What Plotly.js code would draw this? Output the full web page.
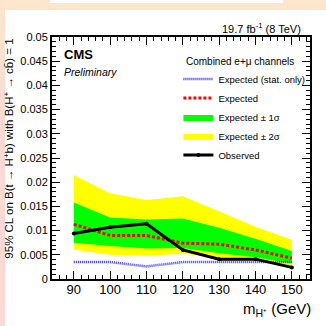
<!DOCTYPE html>
<html>
<head>
<meta charset="utf-8">
<script src="https://cdn.plot.ly/plotly-3.0.1.min.js"></script>
<style>
html,body{margin:0;padding:0;}
body{width:326px;height:326px;position:relative;overflow:hidden;background:#ffffff;}
#strip-top{position:absolute;left:0;top:0;width:326px;height:10px;background:#fde6cb;}
#strip-left{position:absolute;left:0;top:0;width:5px;height:326px;background:linear-gradient(#fde6cb,#fcd9d4 40%,#fcd9d6);}
#box-top{position:absolute;left:50px;top:0;width:233px;height:3px;background:#ffffff;}
#chart{position:absolute;left:0;top:0;width:326px;height:326px;}
</style>
</head>
<body>
<div id="strip-top"></div>
<div id="strip-left"></div>
<div id="box-top"></div>
<div id="chart"></div>
<script>
// Charged Higgs mass points (GeV)
const masses = [90, 100, 110, 120, 130, 140, 150];
// 95% CL upper limits
const observed     = [0.0094, 0.0107, 0.0114, 0.0060, 0.0041, 0.0041, 0.0024];
const expected     = [0.0113, 0.0090, 0.0090, 0.0074, 0.0072, 0.0060, 0.0043];
const expStatOnly  = [0.0035, 0.0035, 0.0026, 0.0035, 0.0035, 0.0035, 0.0035];
const minus1sigma  = [0.0075, 0.0068, 0.0063, 0.0064, 0.0053, 0.0045, 0.0032];
const plus1sigma   = [0.0158, 0.0127, 0.0123, 0.0125, 0.0106, 0.0083, 0.0058];
const minus2sigma  = [0.0061, 0.0050, 0.0048, 0.0052, 0.0044, 0.0038, 0.0022];
const plus2sigma   = [0.0215, 0.0177, 0.0163, 0.0171, 0.0140, 0.0108, 0.0081];
const xTickVals = [90, 100, 110, 120, 130, 140, 150];

const FONT = "'Liberation Sans', Arial, sans-serif";

function band(lo, hi) {
  return {
    x: masses.concat(masses.slice().reverse()),
    y: hi.concat(lo.slice().reverse())
  };
}
const b2 = band(minus2sigma, plus2sigma);
const b1 = band(minus1sigma, plus1sigma);

const traces = [
  {x: b2.x, y: b2.y, type: 'scatter', mode: 'lines', fill: 'toself',
   fillcolor: '#ffff00', line: {width: 0, color: '#ffff00'},
   name: 'Expected ± 2σ', legendrank: 4, legendgroup: 'g4', hoverinfo: 'skip'},
  {x: b1.x, y: b1.y, type: 'scatter', mode: 'lines', fill: 'toself',
   fillcolor: '#00ff00', line: {width: 0, color: '#00ff00'},
   name: 'Expected ± 1σ', legendrank: 3, legendgroup: 'g3', hoverinfo: 'skip'},
  {x: masses, y: expStatOnly, type: 'scatter', mode: 'lines',
   line: {color: '#2f2fff', width: 2.5, dash: '1px,1px'},
   name: 'Expected (stat. only)', legendrank: 1, legendgroup: 'g1'},
  {x: masses, y: expected, type: 'scatter', mode: 'lines',
   line: {color: '#ff0000', width: 3, dash: '3px,2px'},
   name: 'Expected', legendrank: 2, legendgroup: 'g2'},
  {x: masses, y: observed, type: 'scatter', mode: 'lines+markers',
   line: {color: '#000000', width: 3}, marker: {color: '#000000', size: 4},
   name: 'Observed', legendrank: 5, legendgroup: 'g5'}
];

const axisCommon = {
  showline: true, linecolor: '#000', linewidth: 2, mirror: 'ticks',
  ticks: 'inside', ticklen: 8, tickwidth: 1, tickcolor: '#000',
  showgrid: false, zeroline: false,
  tickfont: {family: FONT, size: 12, color: '#000'}
};

const layout = {
  width: 326, height: 326,
  margin: {l: 52, r: 16, t: 37, b: 47, pad: 0},
  paper_bgcolor: 'rgba(0,0,0,0)',
  plot_bgcolor: '#ffffff',
  showlegend: true,
  legend: {
    x: 0.49, y: 0.94, xanchor: 'left', yanchor: 'top',
    bgcolor: 'rgba(0,0,0,0)', borderwidth: 0,
    font: {family: FONT, size: 9.5, color: '#000'},
    title: {text: '  Combined e+μ channels', font: {family: FONT, size: 10, color: '#000'}},
    traceorder: 'normal', tracegroupgap: 0, itemwidth: 30
  },
  xaxis: Object.assign({}, axisCommon, {
    range: [84, 155], tickvals: xTickVals,
    ticklabelstandoff: -3,
    tickfont: {family: FONT, size: 13, color: '#000'},
    minor: {dtick: 2, tick0: 0, ticklen: 4, ticks: 'inside', tickcolor: '#000', tickwidth: 1}
  }),
  yaxis: Object.assign({}, axisCommon, {
    range: [0, 0.05], dtick: 0.005, tick0: 0,
    tickfont: {family: FONT, size: 11, color: '#000'},
    minor: {dtick: 0.001, tick0: 0, ticklen: 4, ticks: 'inside', tickcolor: '#000', tickwidth: 1}
  }),
  annotations: [
    {text: '95% CL on B(t → H<sup>+</sup>b) with B(H<sup>+</sup> → cb\u0304) = 1',
     textangle: -90, xref: 'paper', yref: 'paper', x: -0.168, y: 1.0,
     xanchor: 'center', yanchor: 'top', showarrow: false,
     font: {family: FONT, size: 11.5, color: '#000'}},
    {text: 'm<sub>H⁺</sub> (GeV)', xref: 'paper', yref: 'paper',
     x: 1.01, y: -0.125, xanchor: 'right', yanchor: 'middle', showarrow: false,
     font: {family: FONT, size: 15, color: '#000'}},
    {text: '19.7 fb<sup>-1</sup> (8 TeV)', xref: 'paper', yref: 'paper',
     x: 0.973, y: 1.037, xanchor: 'right', yanchor: 'middle', showarrow: false,
     font: {family: FONT, size: 11, color: '#000'}},
    {text: '<b>CMS</b>', xref: 'paper', yref: 'paper',
     x: 0.04, y: 0.926, xanchor: 'left', yanchor: 'middle', showarrow: false,
     font: {family: FONT, size: 13, color: '#000'}},
    {text: '<i>Preliminary</i>', xref: 'paper', yref: 'paper',
     x: 0.04, y: 0.855, xanchor: 'left', yanchor: 'middle', showarrow: false,
     font: {family: FONT, size: 10.5, color: '#000'}}
  ]
};

Plotly.newPlot('chart', traces, layout, {displayModeBar: false, staticPlot: true});
</script>
</body>
</html>
